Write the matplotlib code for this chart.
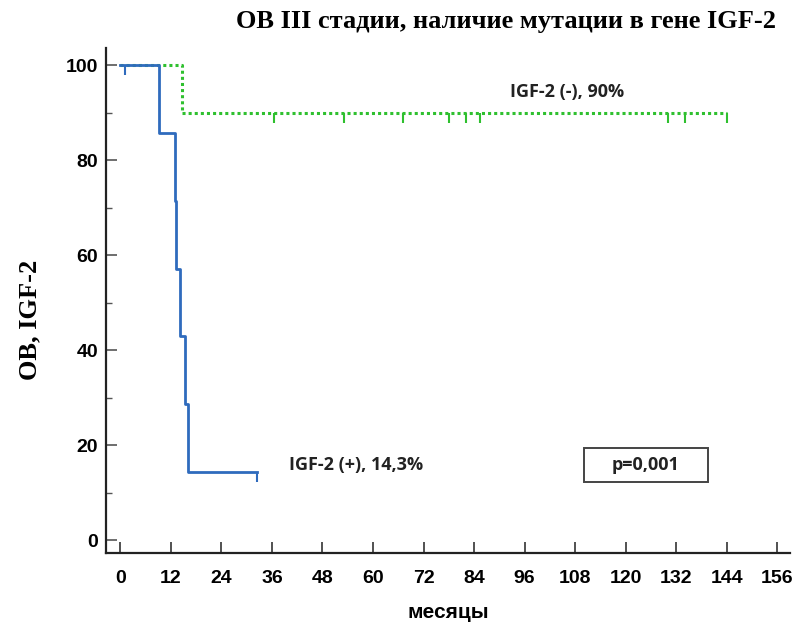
import matplotlib.pyplot as plt
from matplotlib.patches import Rectangle

# Kaplan-Meier steps (months, % surviving)
pos_times = [0, 9.3, 13.0, 13.2, 14.2, 15.3, 16.0, 32.5]
pos_surv = [100, 85.7, 71.4, 57.1, 42.9, 28.6, 14.3, 14.3]
pos_cens_t = [1.2, 32.5]
pos_cens_s = [100, 14.3]

neg_times = [0, 14.7, 144]
neg_surv = [100, 90, 90]
neg_cens_t = [36.6, 53, 67, 78, 82, 85.5, 130, 134, 144]
neg_cens_s = [90, 90, 90, 90, 90, 90, 90, 90, 90]

xticks = list(range(0, 157, 12))
yticks = [0, 20, 40, 60, 80, 100]

blue = '#2f6bbd'
green = '#2fc02f'

fig = plt.figure(figsize=(7.94, 6.25), dpi=100)
ax = fig.add_axes([0.134, 0.115, 0.861, 0.808])

ax.step(neg_times, neg_surv, where='post', color=green, lw=2.2, ls=(0, (1, 1)))
ax.plot(neg_cens_t, neg_cens_s, ls='none', marker=3, ms=7, mew=1.5, color=green)

ax.step(pos_times, pos_surv, where='post', color=blue, lw=2)
ax.plot(pos_cens_t, pos_cens_s, ls='none', marker=3, ms=7, mew=1.5, color=blue)

ax.set_xlim(-3.3, 159)
ax.set_ylim(-2.7, 103.6)

ax.spines['top'].set_visible(False)
ax.spines['right'].set_visible(False)
for s in ['left', 'bottom']:
    ax.spines[s].set_linewidth(1.6)
    ax.spines[s].set_color('#222222')

tick_font = dict(family='Liberation Sans', weight='bold', size=14)
ax.set_xticks(xticks)
ax.set_xticklabels([str(t) for t in xticks], **tick_font)
ax.set_yticks(yticks)
ax.set_yticklabels([str(t) for t in yticks], **tick_font)
ax.set_yticks(range(10, 100, 20), minor=True)
ax.tick_params(axis='x', direction='in', length=8, width=1.2, pad=12, color='#333333')
ax.tick_params(axis='y', direction='in', length=8, width=1.2, pad=6, color='#555555')
ax.tick_params(axis='y', which='minor', direction='in', length=4, width=1.0, color='#555555')

ax.set_xlabel('месяцы', family='Liberation Sans', weight='bold', size=15, labelpad=12)
fig.text(0.038, 0.488, 'ОВ, IGF-2', family='Liberation Serif', weight='bold', size=19,
         rotation=90, ha='center', va='center')

fig.text(0.977, 0.965, 'ОВ III стадии, наличие мутации в гене IGF-2',
         family='Liberation Serif', weight='bold', size=19, ha='right', va='center')

ax.text(106, 94.3, 'IGF-2 (-), 90%', family='Open Sans', weight='bold', size=13,
        ha='center', va='center', color='#222222')
ax.text(56, 15.8, 'IGF-2 (+), 14,3%', family='Open Sans', weight='bold', size=13,
        ha='center', va='center', color='#222222')

ax.add_patch(Rectangle((110, 12.2), 29.5, 7.3, fill=False, lw=1.4, ec='#444444'))
ax.text(124.7, 15.9, 'p=0,001', family='Open Sans', weight='bold', size=13,
        ha='center', va='center', color='#222222')

fig.savefig('out.png', dpi=100)
